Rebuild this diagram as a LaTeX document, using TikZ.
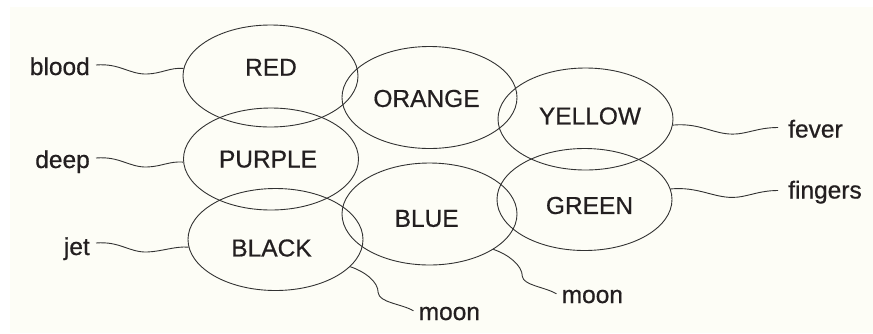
\documentclass[tikz,border=0pt]{standalone}
\usepackage{fontspec}
\setmainfont{Liberation Sans}
\newfontfamily\inkfont{Liberation Sans}[RawFeature={embolden=0.6}]
\usetikzlibrary{shapes.geometric}
\definecolor{cream}{RGB}{253,253,246}
\definecolor{ink}{RGB}{35,31,32}
\definecolor{linec}{RGB}{50,50,50}
\begin{document}
\begin{tikzpicture}[x=1pt,y=-1pt,
  colour/.style={ellipse, draw=linec, line width=0.9pt, minimum width=175pt, minimum height=102pt, inner sep=0pt},
  word/.style={font=\inkfont\fontsize{24.5}{28}\selectfont, text=ink, inner sep=0pt},
  side/.style={word, text height=18pt, text depth=5pt},
  squiggle/.style={draw=linec, line width=0.9pt}]
\useasboundingbox (0,0) rectangle (873,333);
\fill[cream] (10,7) rectangle (873,333);

% ellipses
\node[colour] (ered)    at (270.5,76)   {};
\node[colour] (eorange) at (429.5,97.5) {};
\node[colour] (epurple) at (271,159)    {};
\node[colour] (eblack)  at (275.5,239.5){};
\node[colour] (eblue)   at (429.5,214)  {};
\node[colour] (eyellow) at (585.5,119)  {};
\node[colour] (egreen)  at (584.5,199.5){};

% colour words
\node[word] (tred)    at (271,67.3)  {RED};
\node[word] (torange) at (426.5,98.5){ORANGE};
\node[word] (tpurple) at (268,159.2) {PURPLE};
\node[word] (tblack)  at (271.5,248) {BLACK};
\node[word] (tblue)   at (426.7,218.5){BLUE};
\node[word] (tyellow) at (590,116)   {YELLOW};
\node[word] (tgreen)  at (589.5,205.5){GREEN};

% side words
\node[side, anchor=base east] (blood)   at (90,75)      {blood};
\node[side, anchor=base east] (deep)    at (90,168)     {deep};
\node[side, anchor=base east] (jet)     at (90,255)     {jet};
\node[side, anchor=base west] (fever)   at (788,137.5)  {fever};
\node[side, anchor=base west] (fingers) at (788,198.5)  {fingers};
\node[side, anchor=base west] (moonA)   at (418.5,320)  {moon};
\node[side, anchor=base west] (moonB)   at (561.5,303)  {moon};

% connectors
\draw[squiggle] ([xshift=6pt,yshift=3.5pt]blood.east) .. controls +(24,-2) and +(-18,0.5) .. ++(51,9)
   .. controls +(15,-0.5) and +(-14,-1) .. (ered.175);
\draw[squiggle] ([xshift=6pt,yshift=3.5pt]deep.east) .. controls +(24,-2) and +(-18,0.5) .. ++(51,9)
   .. controls +(15,-0.5) and +(-14,-1) .. (epurple.182);
\draw[squiggle] ([xshift=6pt,yshift=5.5pt]jet.east) .. controls +(24,-2) and +(-18,0.5) .. ++(51,9)
   .. controls +(15,-0.5) and +(-14,-1) .. (eblack.185);
\draw[squiggle] (eyellow.-4) .. controls +(27,-2.5) and +(-20,0) .. ++(60,9)
   .. controls +(14,0) and +(-20,0) .. ([xshift=-10pt,yshift=3.5pt]fever.west);
\draw[squiggle] (egreen.7) .. controls +(27,-2.5) and +(-20,0) .. ++(62,8.5)
   .. controls +(14,0) and +(-20,0) .. ([xshift=-10pt,yshift=1.5pt]fingers.west);
\draw[squiggle] (eblack.-20) .. controls +(15,5) and +(0,-11) .. ++(28,26)
   .. controls +(1,10) and +(-12,-7) .. ([xshift=-5pt,yshift=-9pt]moonA.north west);
\draw[squiggle] (eblue.-29) .. controls +(15,5) and +(0,-11) .. ++(29,27)
   .. controls +(1,9) and +(-12,-7) .. ([xshift=-5pt,yshift=-9pt]moonB.north west);
\end{tikzpicture}
\end{document}
